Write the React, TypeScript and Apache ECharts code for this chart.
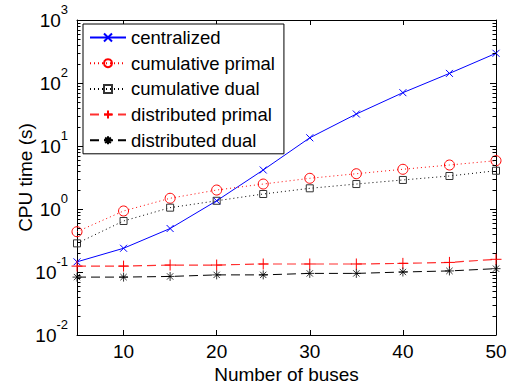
import React, { useEffect, useRef } from 'react';
import * as echarts from 'echarts';

const buses = [5, 10, 15, 20, 25, 30, 35, 40, 45, 50];
const centralized = [0.145, 0.238, 0.49, 1.35, 4.16, 13.5, 32.2, 70.2, 142, 296];
const cumulativePrimal = [0.436, 0.93, 1.48, 2.0, 2.49, 3.07, 3.63, 4.27, 4.99, 5.85];
const cumulativeDual = [0.285, 0.645, 1.05, 1.35, 1.73, 2.13, 2.49, 2.89, 3.34, 4.05];
const distributedPrimal = [0.124, 0.124, 0.129, 0.129, 0.134, 0.134, 0.134, 0.137, 0.142, 0.159];
const distributedDual = [0.083, 0.083, 0.085, 0.09, 0.09, 0.095, 0.095, 0.1, 0.104, 0.113];
const xTicks = [10, 20, 30, 40, 50];
const yMinorTicks = [
  0.02, 0.03, 0.04, 0.05, 0.06, 0.07, 0.08, 0.09,
  0.2, 0.3, 0.4, 0.5, 0.6, 0.7, 0.8, 0.9,
  2, 3, 4, 5, 6, 7, 8, 9,
  20, 30, 40, 50, 60, 70, 80, 90,
  200, 300, 400, 500, 600, 700, 800, 900,
];
const seriesNames = ['centralized', 'cumulative primal', 'cumulative dual', 'distributed primal', 'distributed dual'];

const FONT = 'Liberation Sans, Arial, Helvetica, sans-serif';
const X_MIN = 5;
const X_MAX = 50;
const Y_MIN = 0.01;
const Y_MAX = 1000;

const SYM_X = 'path://M0,0L10,10M0,10L10,0';
const SYM_PLUS = 'path://M5,0L5,10M0,5L10,5';
const SYM_STAR = 'path://M5,0L5,10M0,5L10,5M1.5,1.5L8.5,8.5M1.5,8.5L8.5,1.5';

function pairs(vals: number[]) {
  return buses.map((b, i) => [b, vals[i]]);
}

export default function App() {
  const ref = useRef<HTMLDivElement>(null);
  useEffect(() => {
    if (!ref.current) return;
    const chart = echarts.init(ref.current, undefined, { renderer: 'svg' });
    const blue = '#0000ff';
    const red = '#ff0000';
    const black = '#000000';
    const option: any = {
      animation: false,
      backgroundColor: '#ffffff',
      grid: { left: 77, right: 16, top: 20, bottom: 55, containLabel: false },
      legend: {
        data: seriesNames,
        orient: 'vertical',
        left: 83,
        top: 24,
        padding: [4, 9, 4, 6],
        itemGap: 6.7,
        itemWidth: 36,
        itemHeight: 10,
        borderColor: '#000',
        borderWidth: 1,
        backgroundColor: '#fff',
        textStyle: { fontFamily: FONT, fontSize: 18.5, color: '#000', lineHeight: 18 },
      },
      xAxis: [
        {
          type: 'value',
          min: X_MIN,
          max: X_MAX,
          position: 'bottom',
          name: 'Number of buses',
          nameLocation: 'middle',
          nameGap: 30,
          nameMoveOverlap: false,
          nameTextStyle: { fontFamily: FONT, fontSize: 19, color: '#000' },
          splitLine: { show: false },
          axisLine: { show: true, onZero: false, lineStyle: { color: '#000', width: 1 } },
          axisTick: { show: true, inside: true, length: 5, customValues: xTicks, lineStyle: { color: '#000' } },
          axisLabel: { show: true, customValues: xTicks, margin: 7, fontFamily: FONT, fontSize: 19, color: '#000' },
        },
        {
          type: 'value',
          min: X_MIN,
          max: X_MAX,
          position: 'top',
          splitLine: { show: false },
          axisLine: { show: true, onZero: false, lineStyle: { color: '#000', width: 1 } },
          axisTick: { show: true, inside: true, length: 5, customValues: xTicks, lineStyle: { color: '#000' } },
          axisLabel: { show: false },
        },
      ],
      yAxis: [
        {
          type: 'log',
          logBase: 10,
          min: Y_MIN,
          max: Y_MAX,
          splitNumber: 5,
          position: 'left',
          name: 'CPU time (s)',
          nameLocation: 'middle',
          nameGap: 42,
          nameMoveOverlap: false,
          nameTextStyle: { fontFamily: FONT, fontSize: 19, color: '#000' },
          splitLine: { show: false },
          axisLine: { show: true, onZero: false, lineStyle: { color: '#000', width: 1 } },
          axisTick: { show: true, inside: true, length: 6, lineStyle: { color: '#000' } },
          axisLabel: {
            show: true,
            margin: 9,
            formatter: (v: number) => {
              const e = Math.round(Math.log10(v));
              return `{b|10}{s|${e}}`;
            },
            rich: {
              b: { fontFamily: FONT, fontSize: 19, color: '#000', lineHeight: 34 },
              s: { fontFamily: FONT, fontSize: 13, color: '#000', lineHeight: 12, verticalAlign: 'top' },
            },
          },
        },
        {
          type: 'log',
          logBase: 10,
          min: Y_MIN,
          max: Y_MAX,
          splitNumber: 5,
          position: 'right',
          splitLine: { show: false },
          axisLine: { show: true, onZero: false, lineStyle: { color: '#000', width: 1 } },
          axisTick: { show: true, inside: true, length: 6, lineStyle: { color: '#000' } },
          axisLabel: { show: false },
        },
      ],
      series: [
        {
          type: 'custom',
          name: 'minorTicks',
          silent: true,
          clip: false,
          z: 10,
          xAxisIndex: 0,
          yAxisIndex: 0,
          data: yMinorTicks.map((v) => [X_MIN, v]),
          encode: { x: 0, y: 1 },
          renderItem: (params: any, api: any) => {
            const v = api.value(1);
            const l = api.coord([X_MIN, v]);
            const r = api.coord([X_MAX, v]);
            const y = Math.round(l[1]) + 0.5;
            return {
              type: 'group',
              children: [
                { type: 'line', shape: { x1: l[0], y1: y, x2: l[0] + 3.5, y2: y }, style: { stroke: '#000', lineWidth: 1 } },
                { type: 'line', shape: { x1: r[0] - 3.5, y1: y, x2: r[0], y2: y }, style: { stroke: '#000', lineWidth: 1 } },
              ],
            };
          },
        },
        {
          name: 'centralized',
          type: 'line',
          data: pairs(centralized),
          symbol: SYM_X,
          symbolSize: 7,
          lineStyle: { color: blue, width: 1, type: 'solid' },
          itemStyle: { color: 'none', borderColor: blue, borderWidth: 1 },
          z: 3,
        },
        {
          name: 'cumulative primal',
          type: 'line',
          data: pairs(cumulativePrimal),
          symbol: 'circle',
          symbolSize: 10,
          lineStyle: { color: red, width: 1, type: [1, 3] },
          itemStyle: { color: 'none', borderColor: red, borderWidth: 1 },
          z: 3,
        },
        {
          name: 'cumulative dual',
          type: 'line',
          data: pairs(cumulativeDual),
          symbol: 'rect',
          symbolSize: 7,
          lineStyle: { color: black, width: 1, type: [1, 3] },
          itemStyle: { color: 'none', borderColor: '#333', borderWidth: 1 },
          z: 3,
        },
        {
          name: 'distributed primal',
          type: 'line',
          data: pairs(distributedPrimal),
          symbol: SYM_PLUS,
          symbolSize: 11,
          lineStyle: { color: '#ff3030', width: 1.2, type: [9, 5] },
          itemStyle: { color: 'none', borderColor: red, borderWidth: 1 },
          z: 3,
        },
        {
          name: 'distributed dual',
          type: 'line',
          data: pairs(distributedDual),
          symbol: SYM_STAR,
          symbolSize: 9,
          lineStyle: { color: black, width: 1, type: [9, 5] },
          itemStyle: { color: 'none', borderColor: black, borderWidth: 0.8 },
          z: 3,
        },
      ],
    };
    chart.setOption(option);
    return () => chart.dispose();
  }, []);
  return <div ref={ref} style={{ position: 'absolute', left: 0, top: 0, width: 512, height: 390 }} />;
}
